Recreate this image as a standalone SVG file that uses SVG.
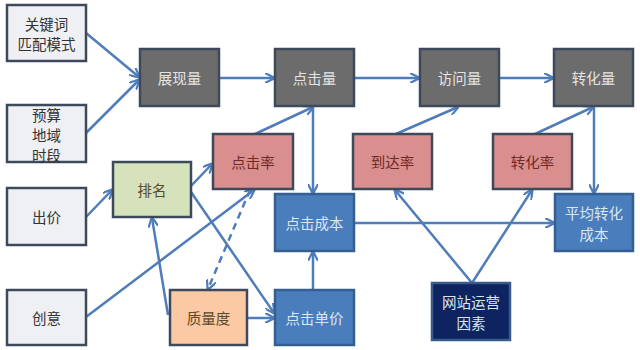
<svg xmlns="http://www.w3.org/2000/svg" width="640" height="350" viewBox="0 0 640 350">
<defs>
<style>
.box{stroke:#3e4a5c;stroke-width:2.5}
.lg{fill:#eff0f3}
.gr{fill:#6c6c6c}
.pk{fill:#d98f8d}
.gn{fill:#d5e2bb}
.or{fill:#fbc9a3}
.bl{fill:#4a7dbb;stroke:#355f92}
.nv{fill:#0d2461;stroke:#3a5a8a}
text{font-family:"Noto Sans CJK SC","Noto Sans CJK JP",sans-serif;font-size:14.5px;text-anchor:middle;dominant-baseline:central}
.td{fill:#333}
.tw{fill:#e4e4e4}
.tr{fill:#6e2a2a}
.to{fill:#5a4a2a}
.tb{fill:#dbe6f5}
.c{stroke:#4f7cba;stroke-width:2.5;fill:none;marker-end:url(#ah)}
.d{stroke-dasharray:7 5}
</style>
<marker id="ah" viewBox="0 0 10 10" refX="9" refY="5" markerWidth="4" markerHeight="4" orient="auto" markerUnits="strokeWidth">
<path d="M0,0 L10,5 L0,10" fill="none" stroke="#4f7cba" stroke-width="2.2"/>
</marker>
</defs>
<rect width="640" height="350" fill="#ffffff"/>
<g id="connectors">
<line class="c" x1="86" y1="33" x2="139" y2="77"/>
<line class="c" x1="86" y1="133" x2="139" y2="80"/>
<line class="c" x1="219" y1="78" x2="274" y2="78"/>
<line class="c" x1="354" y1="78" x2="419" y2="78"/>
<line class="c" x1="499" y1="78" x2="553" y2="78"/>
<line class="c" x1="255" y1="134" x2="313" y2="107"/>
<line class="c" x1="313" y1="107" x2="313" y2="193"/>
<line class="c" x1="396" y1="134" x2="458" y2="107"/>
<line class="c" x1="535" y1="134" x2="593" y2="107"/>
<line class="c" x1="594" y1="107" x2="594" y2="193"/>
<line class="c" x1="354" y1="223" x2="554" y2="223"/>
<line class="c" x1="472" y1="283" x2="395" y2="190"/>
<line class="c" x1="472" y1="283" x2="532" y2="190"/>
<line class="c" x1="86" y1="217" x2="112" y2="190"/>
<line class="c" x1="191" y1="186" x2="212" y2="164"/>
<line class="c" x1="86" y1="317" x2="254" y2="190"/>
<line class="c d" x1="250" y1="190" x2="208" y2="289"/>
<line class="c" x1="168" y1="315" x2="152" y2="218"/>
<line class="c" x1="247" y1="318" x2="274" y2="318"/>
<line class="c" x1="191" y1="192" x2="274" y2="313"/>
<line class="c" x1="313" y1="290" x2="313" y2="252"/>
</g>
<g id="n-keyword"><rect class="box lg" x="7" y="5" width="79" height="56"/><text class="td" x="46.5" y="23">关键词</text><text class="td" x="46.5" y="43">匹配模式</text></g>
<g id="n-budget"><rect class="box lg" x="7" y="105" width="79" height="57"/><text class="td" x="46.5" y="114">预算</text><text class="td" x="46.5" y="134">地域</text><text class="td" x="46.5" y="154">时段</text></g>
<g id="n-bid"><rect class="box lg" x="7" y="188" width="79" height="57"/><text class="td" x="46.5" y="216.5">出价</text></g>
<g id="n-creative"><rect class="box lg" x="7" y="290" width="79" height="55"/><text class="td" x="46.5" y="317.5">创意</text></g>
<g id="n-impr"><rect class="box gr" x="140" y="49" width="79" height="57"/><text class="tw" x="179.5" y="77.5">展现量</text></g>
<g id="n-clicks"><rect class="box gr" x="275" y="49" width="79" height="57"/><text class="tw" x="314.5" y="77.5">点击量</text></g>
<g id="n-visits"><rect class="box gr" x="420" y="49" width="79" height="57"/><text class="tw" x="459.5" y="77.5">访问量</text></g>
<g id="n-conv"><rect class="box gr" x="554" y="49" width="79" height="57"/><text class="tw" x="593.5" y="77.5">转化量</text></g>
<g id="n-ctr"><rect class="box pk" x="213" y="134" width="80" height="55"/><text class="tr" x="253" y="161.5">点击率</text></g>
<g id="n-arrival"><rect class="box pk" x="353" y="134" width="79" height="55"/><text class="tr" x="392.5" y="161.5">到达率</text></g>
<g id="n-cvr"><rect class="box pk" x="493" y="134" width="79" height="55"/><text class="tr" x="532.5" y="161.5">转化率</text></g>
<g id="n-rank"><rect class="box gn" x="113" y="162" width="78" height="55"/><text class="to" x="152" y="189.5">排名</text></g>
<g id="n-cpc"><rect class="box bl" x="275" y="194" width="79" height="57"/><text class="tb" x="314.5" y="222.5">点击成本</text></g>
<g id="n-cpa"><rect class="box bl" x="555" y="194" width="78" height="57"/><text class="tb" x="594" y="212">平均转化</text><text class="tb" x="594" y="233">成本</text></g>
<g id="n-quality"><rect class="box or" x="170" y="290" width="77" height="55"/><text class="to" x="208.5" y="317.5">质量度</text></g>
<g id="n-price"><rect class="box bl" x="275" y="290" width="79" height="55"/><text class="tb" x="314.5" y="317.5">点击单价</text></g>
<g id="n-site"><rect class="box nv" x="432" y="283" width="78" height="57"/><text class="tb" x="471" y="301">网站运营</text><text class="tb" x="471" y="322">因素</text></g>
</svg>
